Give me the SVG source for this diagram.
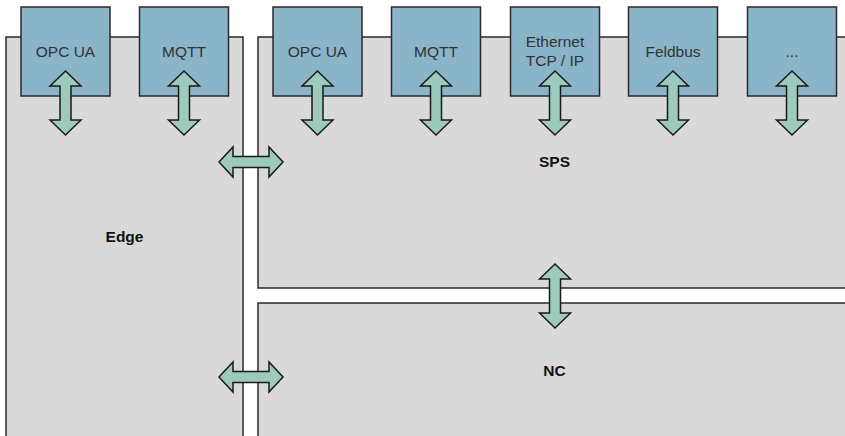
<svg xmlns="http://www.w3.org/2000/svg" width="845" height="436" viewBox="0 0 845 436">
  <defs>
    <style>
      .area { fill: #d9d9d9; stroke: #2a2a2a; stroke-width: 1.5; }
      .box { fill: #8ab4c8; stroke: #2a2a2a; stroke-width: 1.5; }
      .arrow { fill: #9ccbbd; stroke: #1a1a1a; stroke-width: 1.5; stroke-linejoin: miter; }
      .lbl { font-family: "Liberation Sans", Arial, sans-serif; font-size: 15.5px; fill: #333; text-anchor: middle; }
      .title { font-family: "Liberation Sans", Arial, sans-serif; font-size: 15.5px; font-weight: bold; fill: #111; text-anchor: middle; }
    </style>
    <!-- double-headed vertical arrow centered on x=0 -->
    <path id="vArrow" d="M0,71 L15.5,86 L5.5,86 L5.5,120 L15.5,120 L0,135 L-15.5,120 L-5.5,120 L-5.5,86 L-15.5,86 Z"/>
    <!-- double-headed horizontal arrow centered on y=0 -->
    <path id="hArrow" d="M219,0 L233,-15 L233,-5.5 L269,-5.5 L269,-15 L283,0 L269,15 L269,5.5 L233,5.5 L233,15 Z"/>
  </defs>

  <rect width="845" height="436" fill="#ffffff"/>

  <!-- areas -->
  <g id="edge">
    <rect class="area" x="6" y="37" width="237" height="420"/>
    <text class="title" x="124.5" y="242">Edge</text>
  </g>
  <g id="sps">
    <rect class="area" x="258" y="37" width="600" height="251"/>
    <text class="title" x="554.5" y="167">SPS</text>
  </g>
  <g id="nc">
    <rect class="area" x="258" y="303" width="600" height="160"/>
    <text class="title" x="554.5" y="376">NC</text>
  </g>

  <!-- interface boxes -->
  <g id="edge-opcua">
    <rect class="box" x="21" y="7" width="89" height="89"/>
    <text class="lbl" x="65.5" y="57">OPC UA</text>
  </g>
  <g id="edge-mqtt">
    <rect class="box" x="139.5" y="7" width="89" height="89"/>
    <text class="lbl" x="184" y="57">MQTT</text>
  </g>
  <g id="sps-opcua">
    <rect class="box" x="273" y="7" width="89" height="89"/>
    <text class="lbl" x="317.5" y="57">OPC UA</text>
  </g>
  <g id="sps-mqtt">
    <rect class="box" x="391.5" y="7" width="89" height="89"/>
    <text class="lbl" x="436" y="57">MQTT</text>
  </g>
  <g id="sps-ethernet">
    <rect class="box" x="510.5" y="7" width="89" height="89"/>
    <text class="lbl" x="555" y="47">Ethernet</text>
    <text class="lbl" x="555" y="66">TCP / IP</text>
  </g>
  <g id="sps-feldbus">
    <rect class="box" x="628.5" y="7" width="89" height="89"/>
    <text class="lbl" x="673" y="57">Feldbus</text>
  </g>
  <g id="sps-more">
    <rect class="box" x="747.5" y="7" width="89" height="89"/>
    <text class="lbl" x="792" y="57">...</text>
  </g>

  <!-- connectors -->
  <g id="connectors">
    <use href="#vArrow" class="arrow" x="65.5"/>
    <use href="#vArrow" class="arrow" x="184"/>
    <use href="#vArrow" class="arrow" x="317.5"/>
    <use href="#vArrow" class="arrow" x="436"/>
    <use href="#vArrow" class="arrow" x="555"/>
    <use href="#vArrow" class="arrow" x="673"/>
    <use href="#vArrow" class="arrow" x="792"/>
    <use href="#vArrow" class="arrow" x="555" y="193"/>
    <use href="#hArrow" class="arrow" y="162"/>
    <use href="#hArrow" class="arrow" y="377"/>
  </g>
</svg>
